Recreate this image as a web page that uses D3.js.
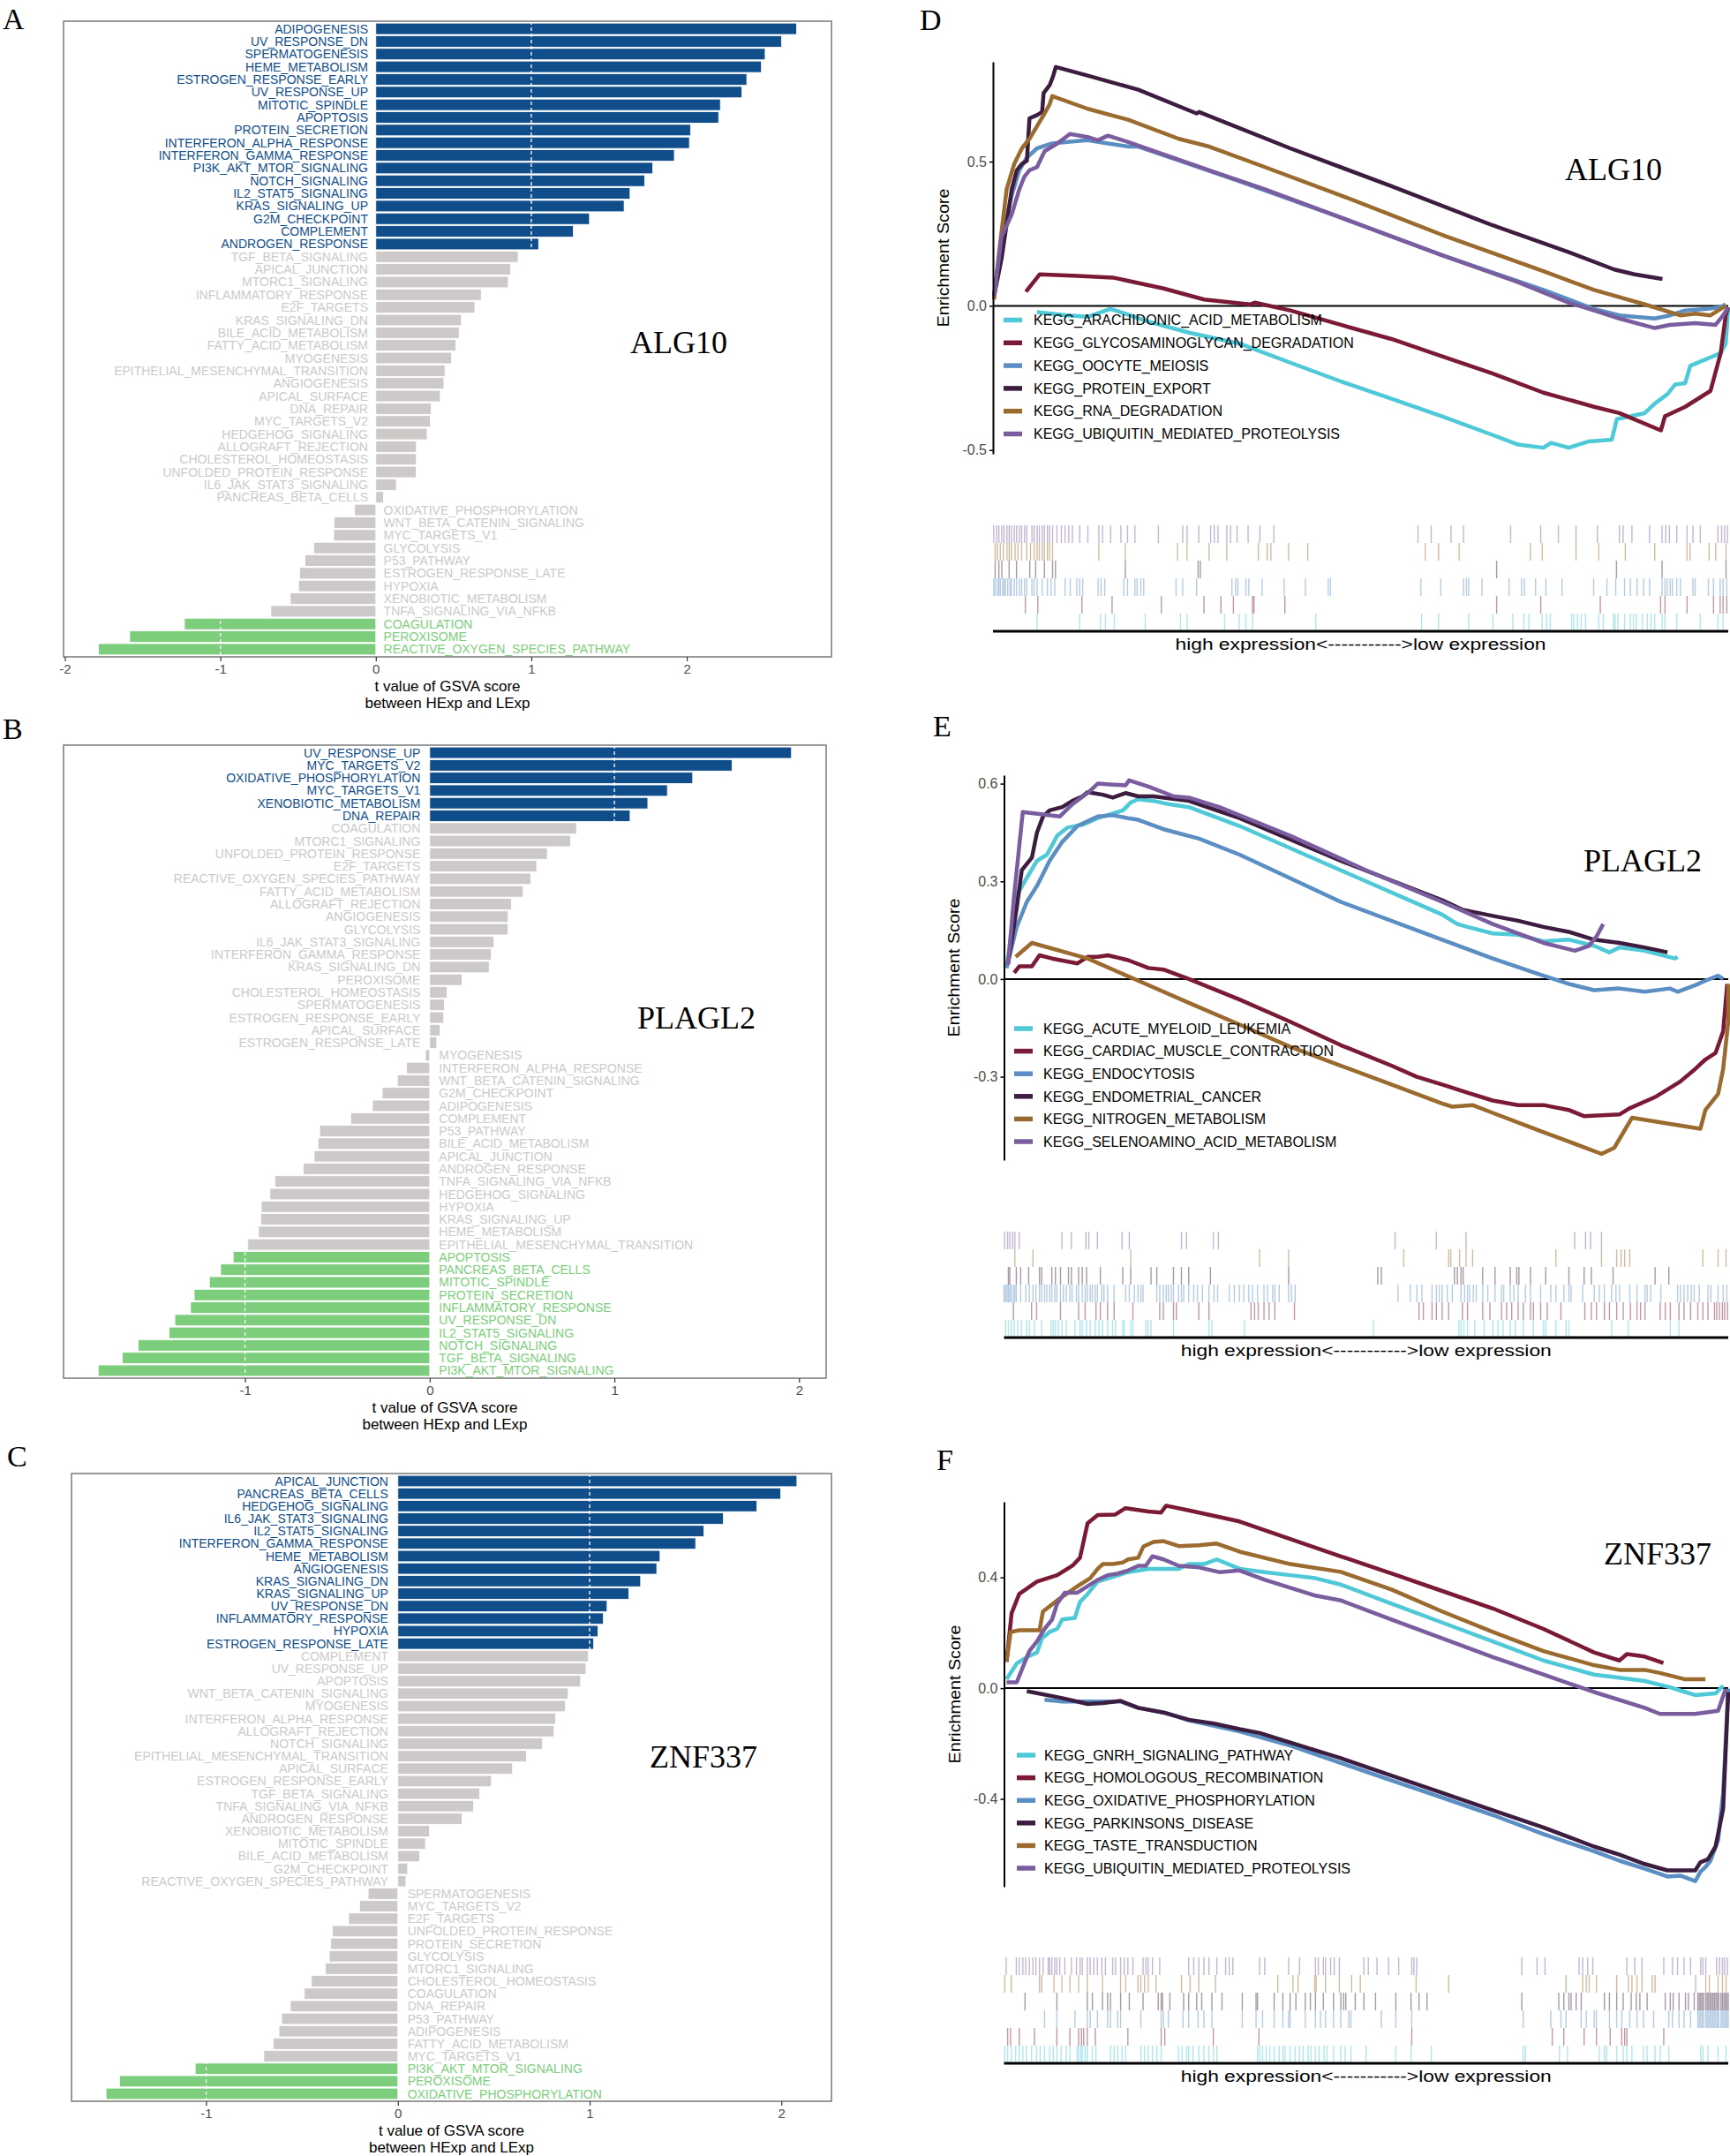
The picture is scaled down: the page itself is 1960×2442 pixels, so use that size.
<!DOCTYPE html>
<html><head><meta charset="utf-8">
<script src="https://cdn.jsdelivr.net/npm/d3@7"></script>
<style>body{margin:0;background:#fff}svg{display:block}</style>
</head><body>
<svg id="fig" width="1960" height="2442"></svg>
<script>
// ===================== DATA: GSVA t values (panels A-C) =====================
const A_PATHWAYS = ["ADIPOGENESIS","UV_RESPONSE_DN","SPERMATOGENESIS","HEME_METABOLISM","ESTROGEN_RESPONSE_EARLY","UV_RESPONSE_UP","MITOTIC_SPINDLE","APOPTOSIS","PROTEIN_SECRETION","INTERFERON_ALPHA_RESPONSE","INTERFERON_GAMMA_RESPONSE","PI3K_AKT_MTOR_SIGNALING","NOTCH_SIGNALING","IL2_STAT5_SIGNALING","KRAS_SIGNALING_UP","G2M_CHECKPOINT","COMPLEMENT","ANDROGEN_RESPONSE","TGF_BETA_SIGNALING","APICAL_JUNCTION","MTORC1_SIGNALING","INFLAMMATORY_RESPONSE","E2F_TARGETS","KRAS_SIGNALING_DN","BILE_ACID_METABOLISM","FATTY_ACID_METABOLISM","MYOGENESIS","EPITHELIAL_MESENCHYMAL_TRANSITION","ANGIOGENESIS","APICAL_SURFACE","DNA_REPAIR","MYC_TARGETS_V2","HEDGEHOG_SIGNALING","ALLOGRAFT_REJECTION","CHOLESTEROL_HOMEOSTASIS","UNFOLDED_PROTEIN_RESPONSE","IL6_JAK_STAT3_SIGNALING","PANCREAS_BETA_CELLS","OXIDATIVE_PHOSPHORYLATION","WNT_BETA_CATENIN_SIGNALING","MYC_TARGETS_V1","GLYCOLYSIS","P53_PATHWAY","ESTROGEN_RESPONSE_LATE","HYPOXIA","XENOBIOTIC_METABOLISM","TNFA_SIGNALING_VIA_NFKB","COAGULATION","PEROXISOME","REACTIVE_OXYGEN_SPECIES_PATHWAY"];
const A_T = [2.706,2.609,2.504,2.480,2.386,2.355,2.216,2.205,2.024,2.017,1.920,1.781,1.729,1.635,1.597,1.374,1.270,1.047,0.915,0.866,0.852,0.678,0.637,0.550,0.536,0.515,0.487,0.445,0.438,0.414,0.355,0.351,0.330,0.261,0.260,0.259,0.132,0.049,-0.136,-0.268,-0.271,-0.400,-0.456,-0.490,-0.497,-0.550,-0.675,-1.231,-1.583,-1.784];

const B_PATHWAYS = ["UV_RESPONSE_UP","MYC_TARGETS_V2","OXIDATIVE_PHOSPHORYLATION","MYC_TARGETS_V1","XENOBIOTIC_METABOLISM","DNA_REPAIR","COAGULATION","MTORC1_SIGNALING","UNFOLDED_PROTEIN_RESPONSE","E2F_TARGETS","REACTIVE_OXYGEN_SPECIES_PATHWAY","FATTY_ACID_METABOLISM","ALLOGRAFT_REJECTION","ANGIOGENESIS","GLYCOLYSIS","IL6_JAK_STAT3_SIGNALING","INTERFERON_GAMMA_RESPONSE","KRAS_SIGNALING_DN","PEROXISOME","CHOLESTEROL_HOMEOSTASIS","SPERMATOGENESIS","ESTROGEN_RESPONSE_EARLY","APICAL_SURFACE","ESTROGEN_RESPONSE_LATE","MYOGENESIS","INTERFERON_ALPHA_RESPONSE","WNT_BETA_CATENIN_SIGNALING","G2M_CHECKPOINT","ADIPOGENESIS","COMPLEMENT","P53_PATHWAY","BILE_ACID_METABOLISM","APICAL_JUNCTION","ANDROGEN_RESPONSE","TNFA_SIGNALING_VIA_NFKB","HEDGEHOG_SIGNALING","HYPOXIA","KRAS_SIGNALING_UP","HEME_METABOLISM","EPITHELIAL_MESENCHYMAL_TRANSITION","APOPTOSIS","PANCREAS_BETA_CELLS","MITOTIC_SPINDLE","PROTEIN_SECRETION","INFLAMMATORY_RESPONSE","UV_RESPONSE_DN","IL2_STAT5_SIGNALING","NOTCH_SIGNALING","TGF_BETA_SIGNALING","PI3K_AKT_MTOR_SIGNALING"];
const B_T = [1.959,1.637,1.424,1.287,1.181,1.085,0.795,0.763,0.637,0.579,0.547,0.506,0.442,0.425,0.424,0.348,0.333,0.322,0.175,0.094,0.079,0.076,0.056,0.038,-0.023,-0.126,-0.175,-0.257,-0.310,-0.427,-0.596,-0.605,-0.626,-0.684,-0.839,-0.865,-0.912,-0.915,-0.927,-0.985,-1.064,-1.132,-1.193,-1.275,-1.295,-1.380,-1.412,-1.579,-1.664,-1.795];

const C_PATHWAYS = ["APICAL_JUNCTION","PANCREAS_BETA_CELLS","HEDGEHOG_SIGNALING","IL6_JAK_STAT3_SIGNALING","IL2_STAT5_SIGNALING","INTERFERON_GAMMA_RESPONSE","HEME_METABOLISM","ANGIOGENESIS","KRAS_SIGNALING_DN","KRAS_SIGNALING_UP","UV_RESPONSE_DN","INFLAMMATORY_RESPONSE","HYPOXIA","ESTROGEN_RESPONSE_LATE","COMPLEMENT","UV_RESPONSE_UP","APOPTOSIS","WNT_BETA_CATENIN_SIGNALING","MYOGENESIS","INTERFERON_ALPHA_RESPONSE","ALLOGRAFT_REJECTION","NOTCH_SIGNALING","EPITHELIAL_MESENCHYMAL_TRANSITION","APICAL_SURFACE","ESTROGEN_RESPONSE_EARLY","TGF_BETA_SIGNALING","TNFA_SIGNALING_VIA_NFKB","ANDROGEN_RESPONSE","XENOBIOTIC_METABOLISM","MITOTIC_SPINDLE","BILE_ACID_METABOLISM","G2M_CHECKPOINT","REACTIVE_OXYGEN_SPECIES_PATHWAY","SPERMATOGENESIS","MYC_TARGETS_V2","E2F_TARGETS","UNFOLDED_PROTEIN_RESPONSE","PROTEIN_SECRETION","GLYCOLYSIS","MTORC1_SIGNALING","CHOLESTEROL_HOMEOSTASIS","COAGULATION","DNA_REPAIR","P53_PATHWAY","ADIPOGENESIS","FATTY_ACID_METABOLISM","MYC_TARGETS_V1","PI3K_AKT_MTOR_SIGNALING","PEROXISOME","OXIDATIVE_PHOSPHORYLATION"];
const C_T = [2.081,1.996,1.872,1.697,1.596,1.553,1.367,1.350,1.266,1.204,1.091,1.071,1.043,1.021,0.992,0.981,0.953,0.888,0.874,0.823,0.815,0.753,0.671,0.598,0.488,0.426,0.395,0.335,0.164,0.144,0.113,0.051,0.042,-0.155,-0.200,-0.257,-0.341,-0.350,-0.358,-0.378,-0.451,-0.488,-0.561,-0.606,-0.620,-0.651,-0.699,-1.057,-1.452,-1.522];

const BAR_GENES = ["ALG10","PLAGL2","ZNF337"];
const AXIS_TITLE = ["t value of GSVA score","between HExp and LExp"];

// ===================== DATA: GSEA running enrichment scores (panels D-F) =====================
// x = position in ranked gene list (% of list), y = running enrichment score
const D_NAMES = ["KEGG_ARACHIDONIC_ACID_METABOLISM","KEGG_GLYCOSAMINOGLYCAN_DEGRADATION","KEGG_OOCYTE_MEIOSIS","KEGG_PROTEIN_EXPORT","KEGG_RNA_DEGRADATION","KEGG_UBIQUITIN_MEDIATED_PROTEOLYSIS"];
const D_ARACHIDONIC = [[5.99,-0.022],[10.12,-0.033],[12.88,-0.038],[15.98,-0.011],[16.67,-0.016],[21.14,-0.055],[26.65,-0.093],[33.54,-0.131],[40.43,-0.197],[47.31,-0.262],[54.20,-0.322],[61.09,-0.383],[67.98,-0.448],[71.42,-0.481],[74.86,-0.492],[75.90,-0.475],[78.31,-0.492],[81.06,-0.470],[84.16,-0.464],[84.85,-0.393],[88.64,-0.372],[90.01,-0.339],[91.74,-0.306],[92.77,-0.273],[94.15,-0.268],[94.83,-0.208],[96.90,-0.186],[98.97,-0.164],[99.66,-0.131],[100,-0.005]];
const D_GLYCOSAMINOGLYCAN = [[4.48,0.049],[6.34,0.109],[11.50,0.104],[16.32,0.098],[23.21,0.060],[28.72,0.022],[34.92,0.005],[35.61,0.011],[40.43,-0.016],[47.31,-0.066],[54.20,-0.115],[61.09,-0.175],[67.98,-0.235],[74.86,-0.301],[81.75,-0.350],[85.19,-0.372],[90.84,-0.432],[91.39,-0.383],[94.15,-0.350],[97.59,-0.295],[98.97,-0.164],[99.66,-0.033],[100,-0.005]];
const D_OOCYTE = [[0.14,0.033],[1.17,0.230],[2.55,0.383],[3.58,0.470],[4.61,0.514],[5.99,0.546],[8.06,0.563],[10.12,0.568],[12.88,0.574],[15.63,0.563],[18.39,0.552],[19.77,0.552],[26.65,0.492],[33.54,0.432],[47.31,0.306],[61.09,0.175],[74.86,0.055],[81.75,-0.011],[85.19,-0.033],[90.01,-0.044],[92.08,-0.033],[94.15,-0.016],[96.90,-0.011],[98.97,-0.005],[99.66,0.005]];
const D_PROTEIN_EXPORT = [[0.14,0.033],[1.17,0.164],[2.55,0.404],[3.24,0.470],[3.93,0.492],[4.61,0.503],[4.96,0.650],[5.99,0.661],[6.68,0.672],[6.89,0.738],[7.71,0.765],[8.20,0.798],[8.54,0.828],[12.88,0.798],[19.77,0.749],[27.69,0.667],[28.03,0.672],[40.43,0.546],[54.20,0.415],[67.98,0.279],[78.31,0.186],[84.50,0.126],[87.26,0.109],[91.05,0.093]];
const D_RNA = [[0.14,0.022],[0.83,0.186],[1.86,0.404],[2.89,0.492],[3.93,0.546],[4.96,0.579],[5.99,0.623],[7.02,0.667],[7.71,0.699],[8.06,0.727],[12.88,0.683],[18.39,0.645],[25.28,0.579],[29.41,0.552],[36.98,0.481],[47.31,0.383],[61.09,0.246],[74.86,0.120],[81.75,0.055],[88.64,0.005],[90.70,-0.011],[93.46,-0.033],[95.52,-0.027],[97.59,-0.033],[99.66,0.0]];
const D_UBIQUITIN = [[0.14,0.033],[1.17,0.240],[2.55,0.317],[3.58,0.404],[4.27,0.448],[4.96,0.470],[5.99,0.481],[7.02,0.536],[8.75,0.563],[10.47,0.596],[12.88,0.585],[14.26,0.574],[15.63,0.590],[18.39,0.568],[23.21,0.525],[30.10,0.464],[36.98,0.404],[47.31,0.306],[61.09,0.175],[71.42,0.082],[78.31,0.011],[81.75,-0.016],[85.19,-0.044],[90.01,-0.077],[92.08,-0.066],[95.52,-0.060],[98.28,-0.066],[99.31,-0.033],[100,-0.005]];

const E_NAMES = ["KEGG_ACUTE_MYELOID_LEUKEMIA","KEGG_CARDIAC_MUSCLE_CONTRACTION","KEGG_ENDOCYTOSIS","KEGG_ENDOMETRIAL_CANCER","KEGG_NITROGEN_METABOLISM","KEGG_SELENOAMINO_ACID_METABOLISM"];
const E_AML = [[0.35,0.034],[1.75,0.257],[3.50,0.324],[4.55,0.363],[5.94,0.382],[7.34,0.440],[8.74,0.465],[10.84,0.474],[12.94,0.494],[15.03,0.508],[16.43,0.518],[17.48,0.542],[18.53,0.552],[20.63,0.547],[22.73,0.537],[25.52,0.528],[32.52,0.470],[46.50,0.334],[60.49,0.198],[62.59,0.169],[63.99,0.160],[67.48,0.140],[70.98,0.136],[74.48,0.116],[77.97,0.121],[81.47,0.102],[83.57,0.082],[84.97,0.097],[88.46,0.087],[92.66,0.063],[93.01,0.068]];
const E_CARDIAC = [[1.40,0.019],[2.10,0.039],[3.85,0.039],[4.90,0.073],[6.64,0.063],[10.14,0.048],[11.54,0.068],[12.94,0.068],[14.34,0.073],[17.13,0.058],[19.93,0.034],[22.03,0.029],[25.52,0.0],[32.52,-0.063],[39.51,-0.131],[46.50,-0.203],[53.50,-0.266],[56.99,-0.300],[60.49,-0.324],[63.99,-0.349],[67.48,-0.373],[70.98,-0.387],[74.48,-0.387],[77.97,-0.402],[80.07,-0.421],[84.97,-0.416],[86.36,-0.397],[89.86,-0.363],[93.36,-0.315],[95.45,-0.276],[96.85,-0.247],[98.25,-0.227],[99.30,-0.160],[99.86,-0.015]];
const E_ENDOCYTOSIS = [[0.35,0.034],[1.75,0.160],[3.15,0.237],[4.55,0.286],[6.29,0.363],[8.04,0.421],[10.14,0.470],[12.94,0.499],[15.03,0.503],[17.13,0.494],[18.53,0.489],[22.03,0.460],[26.92,0.431],[32.52,0.382],[46.50,0.237],[60.49,0.121],[67.48,0.063],[74.48,0.010],[77.97,-0.015],[81.47,-0.034],[84.97,-0.029],[88.46,-0.039],[91.96,-0.029],[93.01,-0.039],[95.45,-0.019],[96.85,-0.005],[98.60,0.010],[99.30,0.0]];
const E_ENDOMETRIAL = [[0.56,0.048],[1.75,0.218],[2.45,0.334],[3.85,0.373],[4.55,0.450],[5.38,0.499],[6.29,0.518],[8.04,0.528],[9.44,0.547],[10.84,0.561],[11.54,0.574],[13.64,0.566],[15.03,0.557],[16.78,0.571],[18.53,0.561],[20.63,0.561],[25.52,0.547],[32.52,0.494],[46.50,0.363],[60.49,0.242],[63.29,0.213],[67.48,0.194],[70.98,0.179],[74.48,0.160],[77.97,0.145],[81.47,0.121],[84.97,0.111],[88.46,0.097],[91.61,0.082]];
const E_NITROGEN = [[1.61,0.068],[3.85,0.111],[11.54,0.063],[18.53,-0.005],[25.52,-0.073],[32.52,-0.140],[39.51,-0.208],[46.50,-0.266],[53.50,-0.324],[60.49,-0.382],[61.89,-0.392],[64.69,-0.387],[67.48,-0.411],[74.48,-0.470],[77.97,-0.499],[82.52,-0.537],[84.27,-0.518],[86.71,-0.426],[91.96,-0.445],[96.15,-0.460],[96.85,-0.402],[98.60,-0.353],[99.30,-0.276],[100,-0.131],[100,-0.015]];
const E_SELENOAMINO = [[0.56,0.044],[1.40,0.257],[2.59,0.513],[7.69,0.499],[9.44,0.537],[11.54,0.571],[12.94,0.600],[15.03,0.597],[16.78,0.595],[17.27,0.610],[19.93,0.591],[23.43,0.561],[25.52,0.557],[29.72,0.528],[39.51,0.440],[50.00,0.334],[60.49,0.237],[67.48,0.169],[74.48,0.111],[78.81,0.087],[80.77,0.102],[81.82,0.131],[82.73,0.169]];

const F_NAMES = ["KEGG_GNRH_SIGNALING_PATHWAY","KEGG_HOMOLOGOUS_RECOMBINATION","KEGG_OXIDATIVE_PHOSPHORYLATION","KEGG_PARKINSONS_DISEASE","KEGG_TASTE_TRANSDUCTION","KEGG_UBIQUITIN_MEDIATED_PROTEOLYSIS"];
const F_GNRH = [[0.35,0.032],[1.75,0.089],[3.15,0.112],[4.55,0.129],[5.24,0.180],[6.29,0.203],[7.34,0.214],[8.04,0.248],[9.79,0.254],[10.49,0.311],[11.54,0.340],[12.94,0.385],[15.03,0.402],[17.13,0.419],[19.93,0.431],[24.13,0.431],[25.52,0.448],[27.62,0.448],[29.37,0.465],[32.52,0.431],[36.01,0.419],[39.51,0.408],[43.01,0.397],[46.50,0.374],[53.50,0.305],[60.49,0.237],[67.48,0.169],[74.48,0.100],[81.47,0.049],[84.97,0.038],[88.46,0.026],[91.96,0.003],[94.06,-0.014],[95.45,-0.025],[98.25,-0.019],[99.30,0.009]];
const F_HOMOLOGOUS = [[0.35,0.095],[1.05,0.271],[2.10,0.340],[4.55,0.385],[7.34,0.408],[9.44,0.442],[10.49,0.471],[11.54,0.596],[12.94,0.625],[15.38,0.627],[16.78,0.650],[19.93,0.638],[21.68,0.634],[22.38,0.659],[25.52,0.642],[32.52,0.602],[39.51,0.539],[46.50,0.476],[53.50,0.414],[60.49,0.351],[67.48,0.288],[74.48,0.214],[80.07,0.146],[81.47,0.129],[84.97,0.100],[86.01,0.123],[88.46,0.114],[91.05,0.091]];
const F_OXPHOS = [[5.59,-0.042],[8.04,-0.048],[11.54,-0.048],[16.08,-0.048],[18.53,-0.071],[22.03,-0.088],[25.52,-0.116],[32.52,-0.156],[39.51,-0.207],[46.50,-0.270],[53.50,-0.333],[60.49,-0.395],[67.48,-0.458],[74.48,-0.527],[81.47,-0.589],[84.97,-0.623],[88.46,-0.652],[91.61,-0.680],[93.36,-0.677],[95.45,-0.697],[96.15,-0.663],[96.85,-0.646],[97.55,-0.623],[98.60,-0.549],[99.30,-0.378],[100,-0.002]];
const F_PARKINSONS = [[3.15,-0.011],[8.04,-0.036],[11.54,-0.057],[13.64,-0.054],[16.08,-0.046],[18.53,-0.071],[22.03,-0.088],[25.52,-0.114],[29.02,-0.128],[32.52,-0.148],[35.31,-0.162],[39.51,-0.196],[46.50,-0.253],[53.50,-0.316],[60.49,-0.378],[67.48,-0.441],[74.48,-0.503],[81.47,-0.572],[84.97,-0.601],[88.46,-0.635],[91.61,-0.658],[93.36,-0.658],[95.45,-0.658],[96.15,-0.629],[97.20,-0.618],[98.25,-0.572],[99.30,-0.435],[100,-0.014]];
const F_TASTE = [[0.35,0.095],[0.91,0.203],[2.10,0.209],[4.90,0.209],[5.38,0.277],[7.34,0.317],[10.14,0.368],[11.89,0.397],[12.94,0.431],[13.64,0.448],[15.03,0.448],[16.43,0.454],[17.13,0.465],[18.53,0.471],[19.23,0.511],[20.63,0.528],[22.03,0.531],[24.13,0.513],[26.92,0.516],[29.37,0.522],[32.52,0.493],[39.51,0.448],[46.50,0.420],[53.50,0.356],[60.49,0.277],[67.48,0.203],[74.48,0.134],[81.47,0.083],[84.97,0.066],[88.46,0.066],[90.56,0.055],[94.06,0.032],[96.85,0.032]];
const F_UBIQUITIN = [[0.35,0.021],[1.75,0.021],[2.45,0.066],[3.50,0.134],[4.55,0.169],[5.59,0.214],[6.64,0.248],[7.34,0.305],[8.39,0.345],[10.14,0.345],[11.54,0.368],[12.94,0.391],[14.34,0.408],[15.73,0.414],[17.13,0.425],[18.53,0.442],[19.58,0.442],[20.49,0.476],[22.03,0.465],[24.13,0.442],[26.92,0.436],[29.72,0.419],[32.52,0.425],[36.01,0.391],[43.01,0.334],[46.50,0.317],[53.50,0.248],[60.49,0.180],[67.48,0.112],[74.48,0.049],[81.47,-0.014],[88.46,-0.071],[90.56,-0.093],[95.45,-0.093],[98.60,-0.082],[99.65,-0.002]];

// ===================== DATA: gene-set hit positions (% of ranked list) =====================
const D_RUG_ARACHIDONIC = [6.0,11.8,14.6,15.3,16.5,20.7,25.5,26.4,31.5,33.5,34.4,35.3,43.9,58.3,60.6,64.7,68.0,70.7,72.2,72.9,74.7,75.3,75.8,78.7,79.0,79.5,80.0,80.6,82.4,83.0,84.4,84.6,85.0,85.9,86.7,87.1,87.5,88.3,89.0,89.5,90.0,91.0,91.4,93.0,96.2,98.6,99.3];
const D_RUG_GLYCOSAMINOGLYCAN = [4.4,6.1,12.1,16.2,22.9,28.7,31.0,32.7,35.3,35.5,39.7,68.5,74.5,82.6,90.8,91.4,94.4,98.0,98.9,99.3,99.8];
const D_RUG_OOCYTE = [0.1,0.3,0.6,0.8,1.0,1.3,1.5,1.7,2.0,2.3,2.5,2.9,3.2,3.6,3.9,4.3,4.6,5.3,5.6,6.0,6.7,7.4,7.9,8.4,9.8,10.5,11.4,11.8,12.2,14.3,14.7,15.2,17.8,18.3,19.3,19.6,20.1,20.5,24.9,25.8,27.7,32.5,33.0,33.3,34.4,34.8,36.6,39.6,42.5,45.6,45.9,58.2,60.9,64.0,64.4,64.7,66.5,70.2,71.9,72.3,73.8,75.2,77.4,81.7,83.5,84.7,85.9,86.7,87.6,88.5,89.3,91.0,91.4,91.7,92.1,92.4,93.0,93.5,95.2,95.5,97.3,98.0,98.9,99.3,99.8];
const D_RUG_PROTEIN_EXPORT = [0.3,0.8,1.2,2.2,3.2,5.0,5.8,7.0,8.1,8.5,18.0,27.9,28.2,68.5,84.8,91.0,99.7];
const D_RUG_RNA = [0.3,0.6,1.0,1.4,1.9,2.2,2.5,3.0,3.4,3.9,4.6,5.1,5.6,6.0,6.3,6.7,7.0,7.4,7.7,8.1,14.4,18.0,25.1,26.4,29.4,31.8,36.1,37.3,37.8,40.2,42.8,58.8,60.6,63.4,73.1,74.7,79.3,82.4,86.0,90.0,94.4,94.8,97.4,98.3,99.7];
const D_RUG_UBIQUITIN = [0.1,0.5,0.8,1.2,1.5,1.9,2.2,2.5,2.9,3.2,3.6,3.9,4.3,4.6,5.3,5.6,6.0,6.3,6.7,7.0,7.4,7.7,8.1,8.7,9.3,9.8,10.3,10.8,11.8,12.9,14.4,14.9,16.0,17.4,18.3,19.3,22.5,25.8,26.4,28.0,29.6,30.1,30.6,31.8,32.3,33.2,34.7,36.3,38.2,57.8,59.6,62.3,64.0,70.4,74.5,76.9,79.3,82.2,85.2,85.7,86.9,89.3,91.0,91.5,92.0,93.0,94.4,95.2,96.2,98.6,99.1,99.5,99.9];

const E_RUG_AML = [0.2,0.6,1.0,1.4,1.9,2.4,3.1,3.5,4.2,5.2,6.5,6.8,7.1,7.5,8.0,8.6,9.8,10.5,10.8,11.4,11.9,12.6,13.1,13.6,14.3,15.0,15.4,16.4,16.6,17.5,17.8,19.6,19.9,20.3,23.4,28.3,28.7,33.2,51.0,62.8,63.1,63.5,64.0,65.0,66.3,67.5,68.2,68.9,69.9,70.6,71.7,73.1,74.5,74.8,76.2,77.6,78.0,83.9,86.2,92.0,93.2];
const E_RUG_CARDIAC = [1.3,3.8,4.5,7.8,10.3,11.2,12.7,13.3,14.3,15.2,17.8,21.5,22.0,23.4,23.8,26.9,28.3,34.1,34.6,35.1,35.9,36.6,37.4,40.1,57.3,57.9,59.1,59.7,60.5,61.4,63.3,64.0,66.1,67.1,68.7,69.4,70.1,71.0,71.7,72.7,73.1,74.1,75.0,76.9,80.2,81.1,81.8,82.9,83.6,84.6,85.5,86.5,87.4,87.9,88.5,90.6,91.3,92.0,93.2,93.9,94.8,95.8,96.5,97.2,98.1,98.4,98.8,99.2,99.5,99.9];
const E_RUG_ENDOCYTOSIS = [0.0,0.2,0.4,0.6,0.8,1.0,1.3,1.5,1.7,2.3,3.0,3.5,4.0,4.4,4.9,5.2,5.6,5.9,6.3,6.6,7.0,7.3,7.8,8.2,8.6,9.1,9.4,10.0,10.3,10.8,11.2,11.5,11.9,12.2,12.6,12.9,13.5,13.8,14.3,15.2,16.8,17.3,18.0,18.5,18.9,19.2,21.1,21.5,22.0,22.4,22.7,23.1,23.4,24.1,24.5,24.8,25.5,26.2,26.7,27.4,28.3,29.0,29.5,31.1,31.8,32.5,33.1,33.8,34.3,35.0,35.9,36.4,37.1,37.4,38.0,39.3,39.7,40.2,54.4,56.1,57.0,57.7,59.1,59.7,60.1,60.5,61.2,61.9,63.1,63.6,64.0,64.3,64.8,65.2,66.1,66.8,67.8,68.7,69.0,69.9,70.4,71.0,72.0,72.7,74.1,75.5,76.2,77.3,78.0,78.3,79.9,81.5,82.2,82.9,83.9,84.5,85.0,86.4,87.4,88.5,88.8,89.3,90.7,93.0,93.4,93.9,94.4,94.9,95.3,96.0,97.2,97.6,98.6,99.3,99.8];
const E_RUG_ENDOMETRIAL = [0.6,0.8,1.7,2.3,3.4,4.9,5.2,6.6,7.1,7.8,8.9,9.3,10.3,10.8,11.4,13.3,16.4,17.5,20.3,21.1,23.4,24.5,25.5,28.5,39.3,51.6,52.1,62.2,62.6,63.1,63.4,66.1,67.8,69.9,70.8,71.1,72.7,74.8,78.0,80.1,81.1,84.1,89.9,91.8];
const E_RUG_NITROGEN = [1.5,4.0,17.5,35.3,39.3,55.2,61.4,61.7,62.9,63.8,64.7,76.2,82.5,84.6,85.2,85.7,86.4,96.5,98.6,99.7];
const E_RUG_SELENOAMINO = [0.1,0.5,0.8,1.2,1.5,2.1,8.0,9.3,11.3,11.7,12.9,16.3,17.3,24.5,25.2,28.9,29.6,54.0,59.7,63.8,78.8,80.3,81.0,82.5];

const F_RUG_GNRH = [0.1,0.5,1.0,1.6,2.1,2.6,3.1,3.8,4.5,5.0,5.6,6.3,6.8,7.3,7.9,8.6,9.1,10.1,10.3,10.6,10.8,11.2,11.5,12.2,12.7,14.7,15.2,15.7,16.3,16.8,18.9,19.4,19.9,20.5,21.1,21.7,24.1,24.6,25.2,25.5,26.1,26.9,27.6,28.3,28.9,29.4,35.0,35.3,35.7,36.2,36.7,37.3,38.0,38.5,38.8,39.5,40.2,40.8,41.3,42.0,42.4,43.0,43.5,44.2,44.6,45.5,46.5,47.1,47.9,50.0,54.1,56.2,59.0,71.7,72.0,76.7,77.8,82.2,82.9,83.2,84.6,85.5,86.0,86.7,88.3,88.8,89.9,90.6,91.8,96.2,96.5,97.2,98.6,99.7];
const F_RUG_HOMOLOGOUS = [0.5,0.9,2.1,4.2,7.3,9.1,10.3,10.7,11.0,11.5,12.6,17.1,21.7,22.2,28.9,35.2,56.3,75.7,77.3,80.1,81.8,83.7,85.3,85.7,86.0,91.1];
const F_RUG_OXPHOS = [5.6,7.3,9.8,11.5,11.9,12.9,14.3,14.7,15.7,16.1,18.9,21.7,22.0,22.7,24.7,25.5,26.8,27.6,28.7,32.9,34.8,35.7,37.3,38.5,39.3,39.5,41.6,43.0,43.7,44.4,45.5,46.5,47.6,47.9,52.1,54.1,56.3,71.7,75.5,76.9,77.6,79.7,80.4,81.5,81.8,83.6,84.6,85.3,86.4,87.4,88.3,89.7,91.8,92.3,93.2,93.9,94.8,95.8,96.0,96.2,96.4,96.6,96.9,97.1,97.3,97.5,97.7,97.9,98.1,98.3,98.5,98.7,99.0,99.2,99.4,99.6,99.8,100];
const F_RUG_PARKINSONS = [2.9,7.3,11.5,12.2,13.6,14.3,14.7,16.1,17.3,19.2,21.3,21.7,21.9,22.9,24.8,25.5,26.6,27.3,28.7,30.1,32.9,34.8,35.0,37.3,38.5,39.5,40.3,41.6,42.3,43.0,44.1,45.5,46.5,46.9,47.2,48.5,49.7,51.3,54.1,56.2,57.3,58.4,71.5,76.6,77.3,78.0,78.3,79.0,79.7,82.9,83.6,84.6,85.5,86.6,87.3,87.8,88.8,91.3,92.0,92.4,93.2,94.1,94.5,95.3,95.8,96.0,96.2,96.4,96.6,96.9,97.1,97.3,97.5,97.7,97.9,98.1,98.3,98.5,98.7,99.0,99.2,99.4,99.6,99.8,100];
const F_RUG_TASTE = [0.1,1.0,4.9,5.2,6.9,8.0,9.1,10.3,11.5,13.6,16.1,16.8,18.5,18.9,19.4,19.9,21.0,24.5,25.7,26.9,29.2,37.8,39.9,40.6,42.9,43.1,44.4,46.3,48.0,49.2,56.9,61.4,77.6,79.9,80.4,80.8,81.8,84.6,86.2,86.7,87.4,88.1,89.5,89.9,95.5,96.9,97.4,98.6,99.2,99.7];
const F_RUG_UBIQUITIN = [0.3,1.7,2.1,2.6,3.0,3.5,4.0,4.4,4.9,5.4,6.1,6.3,6.6,7.0,7.3,7.7,8.4,9.3,10.0,10.5,10.8,11.5,11.9,12.4,12.9,13.5,14.0,15.0,15.4,16.1,16.6,17.1,17.8,19.2,19.6,19.9,20.5,21.5,25.5,26.2,26.9,27.6,28.3,29.4,30.6,31.1,31.6,35.3,36.0,39.3,40.8,43.0,43.4,44.1,44.4,45.1,45.6,46.3,49.7,50.3,51.5,53.1,54.5,56.3,56.6,57.0,71.5,73.6,74.7,79.4,79.9,80.6,81.3,86.0,87.1,88.1,91.1,92.3,93.0,93.9,94.8,96.2,96.5,96.9,98.4,98.8,99.2,99.5,99.9];

const GSEA_X_LABEL = "high expression<----------->low expression";
const GSEA_Y_LABEL = "Enrichment Score";
const D_TICKS = [-0.5,0,0.5], E_TICKS = [-0.3,0,0.3,0.6], F_TICKS = [-0.4,0,0.4];

// ===================== STYLE =====================
const SANS = '"Liberation Sans", Arial, Helvetica, sans-serif';
const SERIF = '"Liberation Serif", "Times New Roman", Times, serif';
const BLUE = "#104E8B", GREY = "#CDC9C9", GREEN = "#7CCD7C";
const COLS = ["#4FC8D7","#7B1A35","#5B8EC3","#3C1C3F","#9B6A2F","#7A5D9F"];

const svg = d3.select("#fig");
svg.append("rect").attr("width",1960).attr("height",2442).attr("fill","#fff");

function letter(t,x,y){
  svg.append("text").attr("x",x).attr("y",y).style("font",`34px ${SERIF}`).attr("fill","#000").text(t);
}

function barPanel(o){
  const g = svg.append("g");
  const ext = d3.extent(o.vals), pad = (ext[1]-ext[0])*0.05;
  const x = d3.scaleLinear().domain([ext[0]-pad, ext[1]+pad]).range([o.left,o.right]);
  const y = d3.scaleBand().domain(o.cats).range([o.top,o.bottom]).paddingInner(0.1).paddingOuter(0.15);
  const col = v => v>1 ? BLUE : (v<-1 ? GREEN : GREY);
  const rows = o.cats.map((c,i)=>({c, v:o.vals[i]}));
  g.selectAll("rect.bar").data(rows).join("rect").attr("class","bar")
    .attr("x",d=>x(Math.min(0,d.v))).attr("width",d=>Math.abs(x(d.v)-x(0)))
    .attr("y",d=>y(d.c)).attr("height",y.bandwidth())
    .attr("fill",d=>col(d.v)).attr("stroke","#fff").attr("stroke-width",0.8);
  [-1,1].forEach(v=>{
    g.append("line").attr("x1",x(v)).attr("x2",x(v)).attr("y1",o.top).attr("y2",o.bottom)
      .attr("stroke","#fff").attr("stroke-width",1.3).attr("stroke-dasharray","4,3");
  });
  g.selectAll("text.lab").data(rows).join("text").attr("class","lab")
    .attr("x",d=>d.v>=0 ? x(-0.05) : x(0.05))
    .attr("y",d=>y(d.c)+y.bandwidth()/2).attr("dy","0.36em")
    .attr("text-anchor",d=>d.v>=0?"end":"start")
    .attr("fill",d=>col(d.v)).style("font",`14px ${SANS}`).text(d=>d.c);
  g.append("rect").attr("x",o.left).attr("y",o.top).attr("width",o.right-o.left).attr("height",o.bottom-o.top)
    .attr("fill","none").attr("stroke","#808080").attr("stroke-width",1.6);
  const dom = x.domain();
  const ticks = d3.range(Math.ceil(dom[0]), Math.floor(dom[1])+1);
  const ax = g.append("g").attr("transform",`translate(0,${o.bottom})`)
    .call(d3.axisBottom(x).tickValues(ticks).tickSize(5).tickPadding(3).tickFormat(d=>String(d)));
  ax.select(".domain").remove();
  ax.selectAll(".tick line").attr("stroke","#333").attr("stroke-width",1.2);
  ax.selectAll(".tick text").attr("fill","#4d4d4d").style("font",`15px ${SANS}`);
  const cx = (o.left+o.right)/2;
  AXIS_TITLE.forEach((t,i)=>{
    g.append("text").attr("x",cx).attr("y",o.bottom+39+i*19).attr("text-anchor","middle")
      .style("font",`17px ${SANS}`).attr("fill","#000").text(t);
  });
  g.append("text").attr("x",o.geneX).attr("y",o.geneY).attr("text-anchor","middle")
    .style("font",`36px ${SERIF}`).attr("fill","#000").text(o.gene);
}

function gseaPanel(o){
  const g = svg.append("g");
  const x1 = 1958;
  const x = d3.scaleLinear().domain([0,100]).range([o.x0,x1]);
  const y = d3.scaleLinear().domain(o.yDom).range([o.yBot,o.yTop]);
  g.append("line").attr("x1",o.x0).attr("x2",x1).attr("y1",y(0)).attr("y2",y(0))
    .attr("stroke","#000").attr("stroke-width",2);
  const line = d3.line().x(d=>x(d[0])).y(d=>y(d[1]));
  o.series.forEach(s=>{
    g.append("path").attr("d",line(s.pts)).attr("fill","none").attr("stroke",s.color)
      .attr("stroke-width",4.5).attr("stroke-linejoin","round").attr("stroke-linecap","butt");
  });
  const ay = g.append("g").attr("transform",`translate(${o.x0},0)`)
    .call(d3.axisLeft(y).tickValues(o.ticks).tickSize(4).tickSizeOuter(0).tickPadding(3).tickFormat(d=>d.toFixed(1)));
  ay.select(".domain").attr("stroke","#000").attr("stroke-width",2);
  ay.selectAll(".tick line").attr("stroke","#000").attr("stroke-width",1.5);
  ay.selectAll(".tick text").attr("fill","#4d4d4d").style("font",`16px ${SANS}`);
  g.append("text").attr("transform",`translate(${o.ylabX},${(o.yTop+o.yBot)/2}) rotate(-90)`)
    .attr("text-anchor","middle").attr("dy","0.35em").attr("textLength",157).attr("lengthAdjust","spacingAndGlyphs")
    .style("font",`18px ${SANS}`).attr("fill","#000").text(GSEA_Y_LABEL);
  g.append("text").attr("x",o.geneX).attr("y",o.geneY).attr("text-anchor","middle")
    .style("font",`36px ${SERIF}`).attr("fill","#000").text(o.gene);
  o.series.forEach((s,i)=>{
    const ly = o.legY + i*o.legStep;
    g.append("line").attr("x1",o.keyX).attr("x2",o.keyX+21).attr("y1",ly).attr("y2",ly)
      .attr("stroke",s.color).attr("stroke-width",5.5);
    g.append("text").attr("x",o.textX).attr("y",ly).attr("dy","0.36em")
      .style("font",`16px ${SANS}`).attr("fill","#000").text(s.name);
  });
  const n = o.series.length;
  o.series.forEach((s,i)=>{
    const top = o.rugTop + (n-1-i)*o.rugH;
    g.append("g").selectAll("line").data(s.rug).join("line")
      .attr("x1",d=>x(d)).attr("x2",d=>x(d)).attr("y1",top).attr("y2",top+o.rugH)
      .attr("stroke",s.color).attr("stroke-opacity",0.45).attr("stroke-width",1.4);
  });
  g.append("line").attr("x1",o.x0).attr("x2",x1).attr("y1",o.rugLine).attr("y2",o.rugLine)
    .attr("stroke","#000").attr("stroke-width",3);
  g.append("text").attr("x",(o.x0+x1)/2).attr("y",o.rugLine+21).attr("text-anchor","middle")
    .attr("textLength",420).attr("lengthAdjust","spacingAndGlyphs")
    .style("font",`18px ${SANS}`).attr("fill","#000").text(GSEA_X_LABEL);
}

// ===================== PANELS A-C =====================
barPanel({cats:A_PATHWAYS, vals:A_T, left:72, right:942, top:24, bottom:744, gene:BAR_GENES[0], geneX:769, geneY:400});
barPanel({cats:B_PATHWAYS, vals:B_T, left:72, right:936, top:844, bottom:1561, gene:BAR_GENES[1], geneX:789, geneY:1165});
barPanel({cats:C_PATHWAYS, vals:C_T, left:81, right:942, top:1669, bottom:2380, gene:BAR_GENES[2], geneX:797, geneY:2002});

// ===================== PANELS D-F =====================
const mk = (names, pts, rugs) => names.map((nm,i)=>({name:nm, color:COLS[i], pts:pts[i], rug:rugs[i]}));
gseaPanel({
  series: mk(D_NAMES,[D_ARACHIDONIC,D_GLYCOSAMINOGLYCAN,D_OOCYTE,D_PROTEIN_EXPORT,D_RNA,D_UBIQUITIN],
             [D_RUG_ARACHIDONIC,D_RUG_GLYCOSAMINOGLYCAN,D_RUG_OOCYTE,D_RUG_PROTEIN_EXPORT,D_RUG_RNA,D_RUG_UBIQUITIN]),
  x0:1125, yTop:70, yBot:514, yDom:[-0.513,0.846], ticks:D_TICKS, ylabX:1069,
  gene:"ALG10", geneX:1828, geneY:204,
  keyX:1137, textX:1171, legY:362.5, legStep:25.8,
  rugTop:595, rugH:20, rugLine:715
});
gseaPanel({
  series: mk(E_NAMES,[E_AML,E_CARDIAC,E_ENDOCYTOSIS,E_ENDOMETRIAL,E_NITROGEN,E_SELENOAMINO],
             [E_RUG_AML,E_RUG_CARDIAC,E_RUG_ENDOCYTOSIS,E_RUG_ENDOMETRIAL,E_RUG_NITROGEN,E_RUG_SELENOAMINO]),
  x0:1137.5, yTop:878, yBot:1314, yDom:[-0.556,0.626], ticks:E_TICKS, ylabX:1080.5,
  gene:"PLAGL2", geneX:1861, geneY:987,
  keyX:1149, textX:1182, legY:1165, legStep:25.6,
  rugTop:1395, rugH:20, rugLine:1515
});
gseaPanel({
  series: mk(F_NAMES,[F_GNRH,F_HOMOLOGOUS,F_OXPHOS,F_PARKINSONS,F_TASTE,F_UBIQUITIN],
             [F_RUG_GNRH,F_RUG_HOMOLOGOUS,F_RUG_OXPHOS,F_RUG_PARKINSONS,F_RUG_TASTE,F_RUG_UBIQUITIN]),
  x0:1137.5, yTop:1701, yBot:2137, yDom:[-0.717,0.673], ticks:F_TICKS, ylabX:1082,
  gene:"ZNF337", geneX:1878, geneY:1772,
  keyX:1152, textX:1183, legY:1988, legStep:25.6,
  rugTop:2217, rugH:20, rugLine:2337
});

// ===================== PANEL LETTERS =====================
letter("A",3,33); letter("B",3,837); letter("C",8,1661);
letter("D",1042,34); letter("E",1057,834); letter("F",1061,1665);
</script>
</body></html>
